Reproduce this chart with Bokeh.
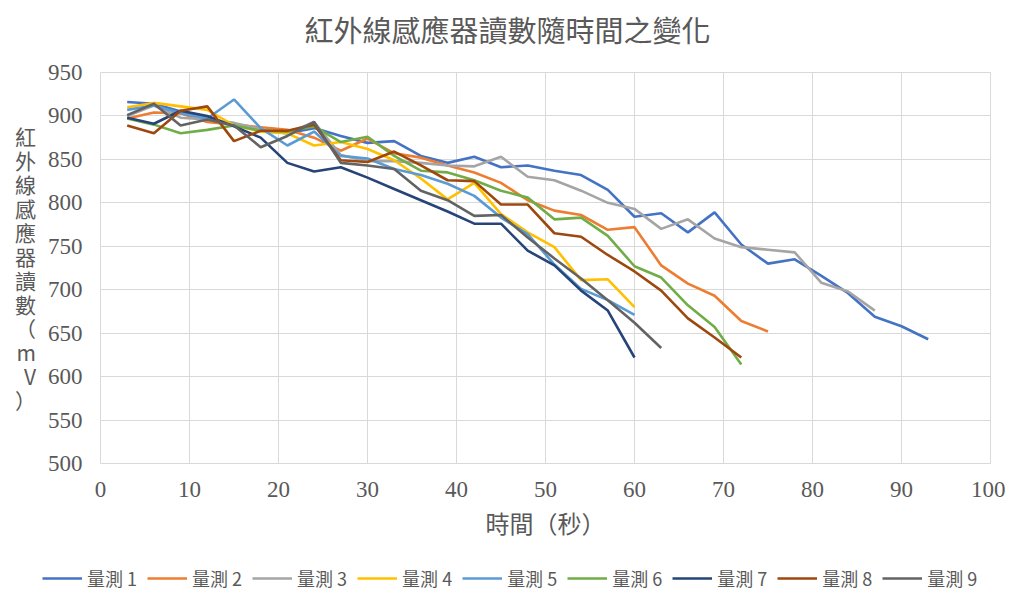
from bokeh.plotting import figure
from bokeh.models import Legend, LegendItem, FixedTicker, Range1d
from bokeh.core.properties import value
from bokeh.layouts import column
from bokeh.embed import file_html
from bokeh.resources import INLINE

times = [3, 6, 9, 12, 15, 18, 21, 24, 27, 30, 33, 36, 39, 42, 45, 48, 51, 54, 57, 60,
         63, 66, 69, 72, 75, 78, 81, 84, 87, 90, 93]

s1 = [916, 914, 905, 898, 890, 883, 880, 886, 877, 869, 871, 854, 846, 853, 841, 843, 837, 832, 815, 784,
      788, 766, 789, 752, 730, 735, 716, 696, 669, 658, 643]
s2 = [897, 904, 903, 893, 890, 887, 884, 875, 860, 874, 857, 852, 843, 835, 823, 803, 791, 786, 769, 772,
      728, 707, 693, 664, 652]
s3 = [900, 912, 898, 896, 892, 885, 880, 893, 855, 848, 848, 846, 843, 842, 853, 830, 826, 814, 800, 793,
      770, 781, 759, 749, 746, 743, 708, 698, 676]
s4 = [910, 915, 911, 907, 889, 882, 880, 866, 870, 862, 849, 828, 804, 823, 787, 766, 749, 711, 712, 680]
s5 = [907, 912, 903, 897, 919, 886, 866, 882, 854, 851, 839, 832, 822, 808, 783, 764, 729, 701, 688, 671]
s6 = [897, 890, 880, 884, 889, 883, 882, 888, 870, 876, 854, 837, 835, 826, 814, 806, 781, 783, 762, 727,
      714, 682, 657, 614]
s7 = [898, 891, 906, 900, 888, 875, 846, 836, 841, 829, 816, 803, 790, 776, 776, 745, 728, 699, 676, 622]
s8 = [889, 880, 906, 911, 871, 883, 883, 890, 849, 847, 859, 843, 826, 825, 798, 798, 765, 761, 740, 721,
      699, 667, 645, 622]
s9 = [901, 914, 889, 896, 889, 864, 877, 893, 846, 843, 839, 814, 803, 785, 786, 760, 736, 713, 688, 662,
      633]

series = [s1, s2, s3, s4, s5, s6, s7, s8, s9]
names = ["量測 1", "量測 2", "量測 3", "量測 4", "量測 5", "量測 6", "量測 7", "量測 8", "量測 9"]
colors = ["#4472C4", "#ED7D31", "#A5A5A5", "#FFC000", "#5B9BD5", "#70AD47", "#264478", "#9E480E", "#636363"]

x_ticks = [0, 10, 20, 30, 40, 50, 60, 70, 80, 90, 100]
y_ticks = [500, 550, 600, 650, 700, 750, 800, 850, 900, 950]

title_text = "紅外線感應器讀數隨時間之變化"
x_label = "時間（秒）"
y_label = "紅外線感應器讀數（mV）"

CJK = "Noto Sans CJK TC"
NUM = "'Liberation Serif', serif"
TXT = "#595959"
W = 1005


def strip(h):
    f = figure(width=W, height=h, output_backend="svg", toolbar_location=None,
               x_range=Range1d(0, W), y_range=Range1d(0, h),
               min_border_left=0, min_border_right=0, min_border_top=0, min_border_bottom=0)
    f.frame_align = False
    f.xaxis.visible = False
    f.yaxis.visible = False
    f.xgrid.visible = False
    f.ygrid.visible = False
    f.outline_line_color = None
    return f


# title strip
tf = strip(50)
tf.text(x=[507], y=[22], text=[title_text], text_font=value(CJK), text_font_size="29px",
        text_color=TXT, text_align="center", text_baseline="middle")

# main chart
p = figure(width=W, height=500, output_backend="svg", toolbar_location=None,
           x_range=Range1d(0, 100), y_range=Range1d(500, 950),
           min_border_left=100, min_border_right=15, min_border_top=22, min_border_bottom=87)

p.outline_line_color = "#D9D9D9"
p.xgrid.grid_line_color = "#D9D9D9"
p.ygrid.grid_line_color = "#D9D9D9"
p.xaxis.ticker = FixedTicker(ticks=x_ticks)
p.yaxis.ticker = FixedTicker(ticks=y_ticks)

for ax in (p.xaxis[0], p.yaxis[0]):
    ax.axis_line_color = None
    ax.major_tick_line_color = None
    ax.minor_tick_line_color = None
    ax.major_label_text_font = NUM
    ax.major_label_text_font_size = "23px"
    ax.major_label_text_color = TXT
    ax.axis_label_text_font = CJK
    ax.axis_label_text_font_style = "normal"
    ax.axis_label_text_color = TXT
    ax.major_label_standoff = 12

p.xaxis.axis_label = x_label
p.xaxis.axis_label_text_font_size = "24px"
p.xaxis.axis_label_standoff = 5

p.yaxis.axis_label = "\n".join(y_label)
p.yaxis.axis_label_text_font_size = "21px"
p.yaxis.axis_label_orientation = "horizontal"
p.yaxis.axis_label_text_line_height = 0.8
p.yaxis.axis_label_standoff = 9

for vals, col in zip(series, colors):
    p.line(times[:len(vals)], vals, line_color=col, line_width=2.6)

# legend strip (renderers hold points outside the strip's view)
lg = strip(42)
items = []
for name, col, vals in zip(names, colors, series):
    r = lg.line([-times[0], -times[1]], [-vals[0], -vals[1]], line_color=col, line_width=2.6)
    items.append(LegendItem(label=name, renderers=[r]))

legend = Legend(items=items, orientation="horizontal", location=(42, 1),
                glyph_width=40, glyph_height=20, label_standoff=5, spacing=10,
                padding=0, margin=0, border_line_color=None, background_fill_alpha=0,
                label_text_font=CJK, label_text_font_size="18px", label_text_color=TXT)
lg.add_layout(legend, "center")

layout = column(tf, p, lg, spacing=0)
open("out.html", "w").write(file_html(layout, INLINE))
